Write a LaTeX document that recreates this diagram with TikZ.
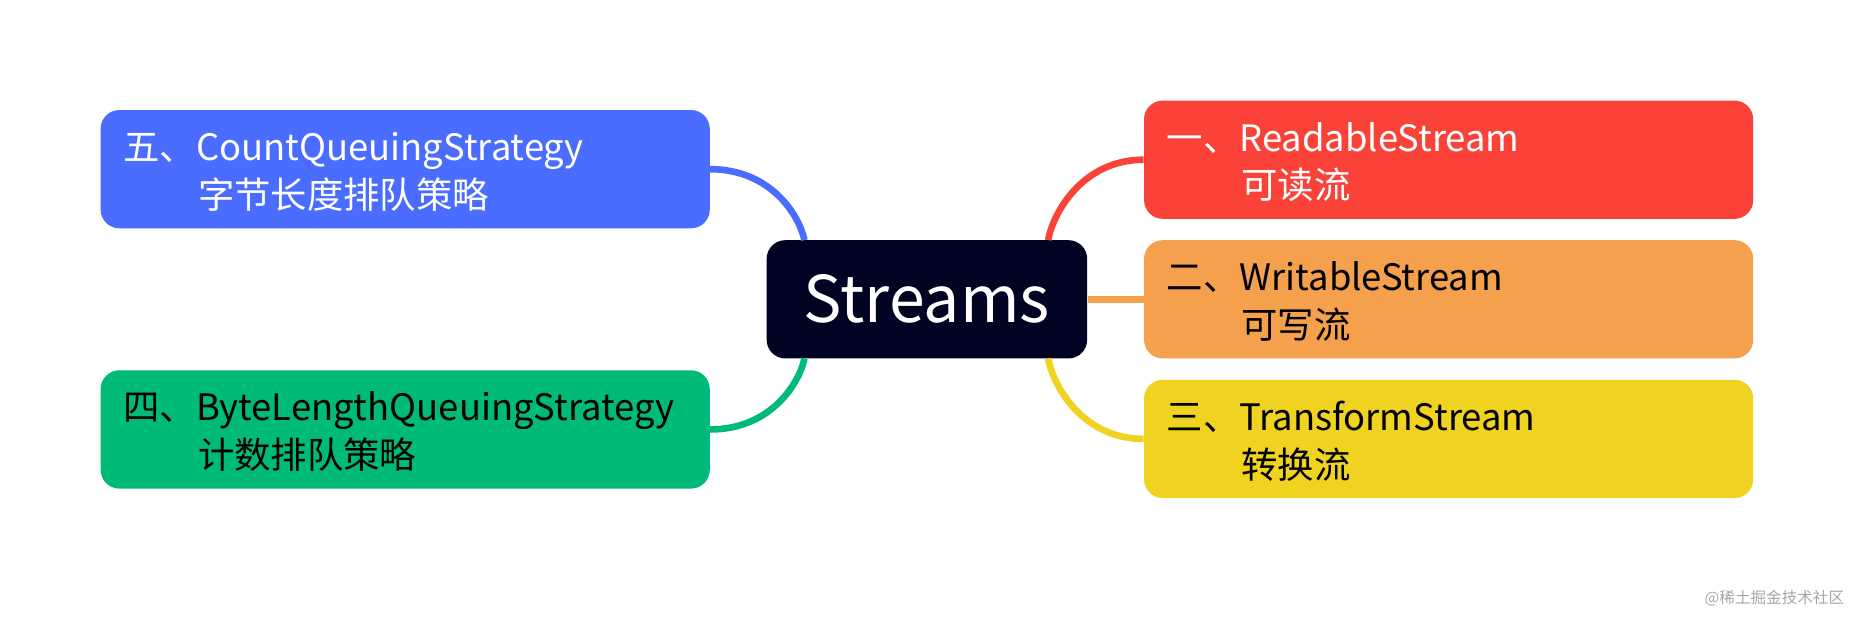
\documentclass[tikz,border=0pt]{standalone}
\usepackage{fontspec}
\setmainfont{Noto Sans CJK SC}
\usetikzlibrary{positioning}
\definecolor{cblue}{HTML}{4A6CFF}
\definecolor{cgreen}{HTML}{00BB77}
\definecolor{cred}{HTML}{FA4238}
\definecolor{corange}{HTML}{F4A04C}
\definecolor{cyellow}{HTML}{F0D320}
\definecolor{cnavy}{HTML}{000422}
\tikzset{
  topic/.style={rounded corners=9pt, minimum width=10.3cm, minimum height=2cm, inner sep=0pt},
  topictext/.style={anchor=west, align=left, inner sep=0pt, font=\fontsize{17.5}{23}\selectfont},
  branch/.style={line width=3.2pt}
}
\begin{document}
\begin{tikzpicture}[x=0.02cm,y=-0.02cm]
\useasboundingbox (0,0) rectangle (1568,521);

\node[topic, fill=cnavy, minimum width=5.42cm] (root) at (783.5,253) {};
\node[text=white, font=\fontsize{31}{34}\selectfont] (roottext) at (783.5,253) {Streams};

\node[topic, fill=cblue]   (five)  at (342.5,143) {};
\node[topic, fill=cgreen]  (four)  at (342.5,363) {};
\node[topic, fill=cred]    (one)   at (1224.5,135) {};
\node[topic, fill=corange] (two)   at (1224.5,253) {};
\node[topic, fill=cyellow] (three) at (1224.5,371) {};

% text of the topics
\node[topictext, text=white] (fivetext)  at (104,145) {五、CountQueuingStrategy\\\hspace{2.05em}字节长度排队策略};
\node[topictext]             (fourtext)  at (104,365) {四、ByteLengthQueuingStrategy\\\hspace{2.05em}计数排队策略};
\node[topictext, text=white] (onetext)   at (986,137) {一、ReadableStream\\\hspace{2.05em}可读流};
\node[topictext]             (twotext)   at (986,255) {二、WritableStream\\\hspace{2.05em}可写流};
\node[topictext]             (threetext) at (986,373) {三、TransformStream\\\hspace{2.05em}转换流};

% branches
\draw[branch, cblue]   (five.east) .. controls (650,143) and (675,180) .. (680,203);
\draw[branch, cgreen]  (four.east) .. controls (650,363) and (675,326) .. (680,303);
\draw[branch, cred]    (one.west) .. controls (915,135) and (890,180) .. (886,203);
\draw[branch, corange] (root.east) -- (two.west);
\draw[branch, cyellow] (three.west) .. controls (915,371) and (890,326) .. (886,303);

\node[text=gray!70, font=\fontsize{7.5}{9}\selectfont, anchor=south east] (mark) at (1565,519) {@稀土掘金技术社区};
\end{tikzpicture}
\end{document}
